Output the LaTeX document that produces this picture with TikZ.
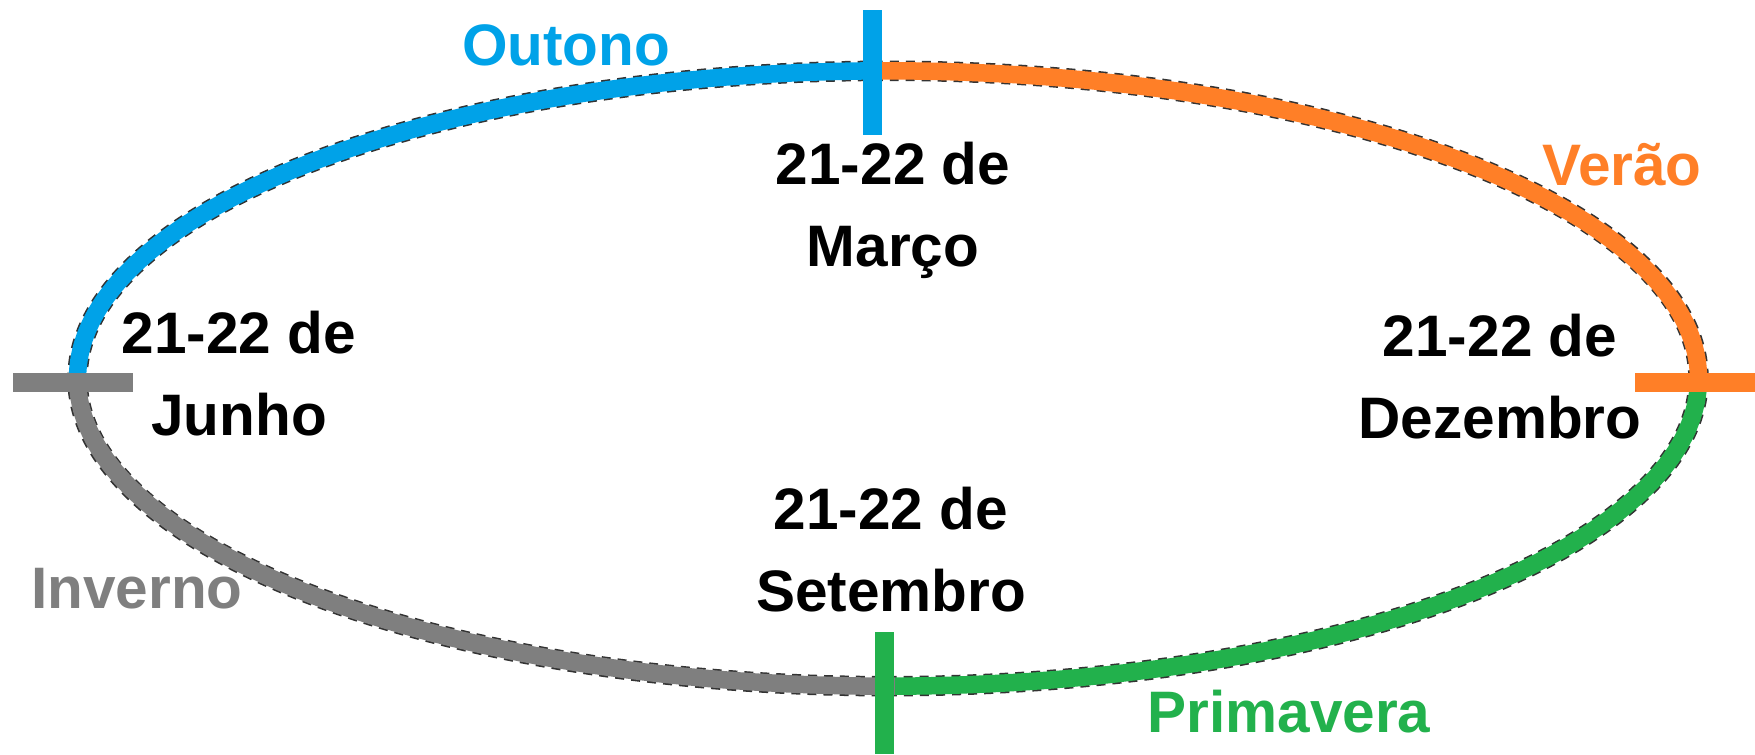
\documentclass[tikz,border=0pt]{standalone}
\usepackage{fontspec}
\setmainfont{Liberation Sans}
\definecolor{cblue}{RGB}{0,162,232}
\definecolor{corange}{RGB}{255,127,39}
\definecolor{cgreen}{RGB}{34,177,76}
\definecolor{cgray}{RGB}{127,127,127}
\begin{document}
\begin{tikzpicture}[x=0.01cm,y=-0.01cm,
  outline/.style={draw=black!80, line width=0.205cm, dash pattern=on 0.09cm off 0.07cm},
  band/.style={line width=0.175cm},
  tickmark/.style={line width=0.19cm},
  lbl/.style={font=\fontsize{16.64}{23.2}\selectfont\bfseries, inner sep=0pt, anchor=base, align=center},
  season/.style={font=\fontsize{16.64}{22.76}\selectfont\bfseries, inner sep=0pt, anchor=base}]
\useasboundingbox (0,0) rectangle (1755,754);
\coordinate (C) at (888,378.5);
% outline
\draw[outline] (C) ellipse [x radius=8.10cm, y radius=3.075cm];
% seasons arcs
\draw[band, cblue] ([shift={(C)}]91:8.10cm and 3.075cm) arc[start angle=91, end angle=180, x radius=8.10cm, y radius=3.075cm];
\draw[band, corange] ([shift={(C)}]0:8.10cm and 3.075cm) arc[start angle=0, end angle=91, x radius=8.10cm, y radius=3.075cm];
\draw[band, cgray] ([shift={(C)}]180:8.10cm and 3.075cm) arc[start angle=180, end angle=270.5, x radius=8.10cm, y radius=3.075cm];
\draw[band, cgreen] ([shift={(C)}]270.5:8.10cm and 3.075cm) arc[start angle=270.5, end angle=360, x radius=8.10cm, y radius=3.075cm];
% ticks
\coordinate (tTop1) at (872,10);   \coordinate (tTop2) at (872,135);
\coordinate (tBot1) at (884,632);  \coordinate (tBot2) at (884,754);
\coordinate (tLeft1) at (13,382);  \coordinate (tLeft2) at (133,382);
\coordinate (tRight1) at (1635,382); \coordinate (tRight2) at (1755,382);
\draw[tickmark, cblue] (tTop1) -- (tTop2);
\draw[tickmark, cgreen] (tBot1) -- (tBot2);
\draw[tickmark, cgray] (tLeft1) -- (tLeft2);
\draw[tickmark, corange] (tRight1) -- (tRight2);
% season labels
\node[season, text=cblue] (outono) at (566,65) {Outono};
\node[season, text=corange] (verao) at (1622,185) {Verão};
\node[season, text=cgray] (inverno) at (137,608) {Inverno};
\node[season, text=cgreen] (primavera) at (1289,732) {Primavera};
% date labels (base anchor = baseline of last line)
\node[lbl] (marco) at (893,266) {21-22 de\\Março};
\node[lbl] (junho) at (239,435) {21-22 de\\Junho};
\node[lbl] (dezembro) at (1500,438) {21-22 de\\Dezembro};
\node[lbl] (setembro) at (891,611) {21-22 de\\Setembro};
\end{tikzpicture}
\end{document}
